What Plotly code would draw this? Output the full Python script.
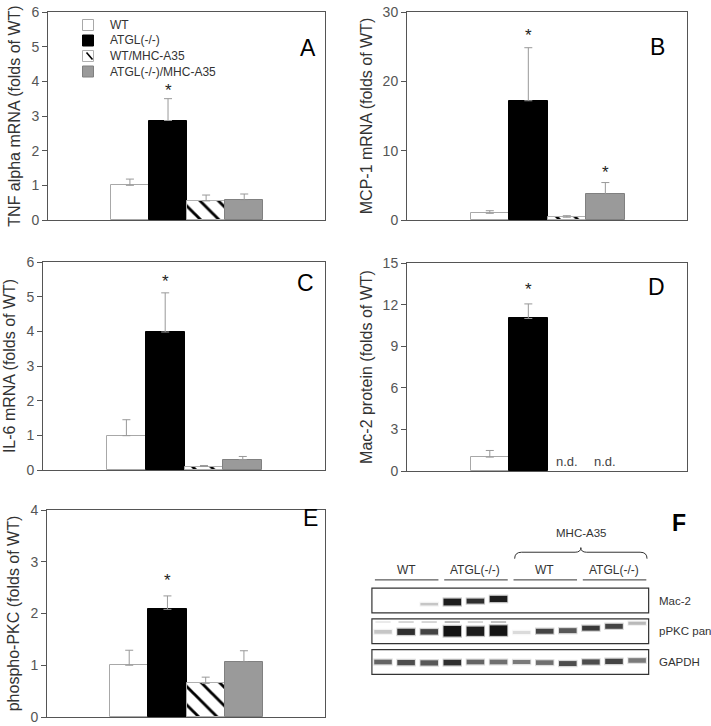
import plotly.graph_objects as go

W, H = 711, 726

# ---------------- data ----------------
groups = ["WT", "ATGL(-/-)", "WT/MHC-A35", "ATGL(-/-)/MHC-A35"]

tnf = [1.0, 2.87, 0.55, 0.57]
tnf_err = [0.18, 0.63, 0.17, 0.18]

mcp1 = [0.96, 17.2, 0.4, 3.7]
mcp1_err = [0.38, 7.65, 0.22, 1.7]

il6 = [0.99, 3.98, 0.1, 0.3]
il6_err = [0.46, 1.13, 0.03, 0.09]

mac2 = [1.0, 11.0, None, None]
mac2_err = [0.48, 1.05, None, None]

ppkc = [1.0, 2.08, 0.65, 1.06]
ppkc_err = [0.29, 0.26, 0.12, 0.22]

stars = {  # panel -> list of (group index, y of asterisk)
    "A": [(1, 3.84)],
    "B": [(1, 27.2), (3, 7.46)],
    "C": [(1, 5.54)],
    "D": [(1, 13.4)],
    "E": [(1, 2.71)],
}
nd_groups = [2, 3]
nd_y = 0.69

y_titles = {
    "A": "TNF alpha mRNA (folds of WT)",
    "B": "MCP-1 mRNA (folds of WT)",
    "C": "IL-6 mRNA (folds of WT)",
    "D": "Mac-2 protein (folds of WT)",
    "E": "phospho-PKC (folds of WT)",
}
y_ranges = {"A": [0, 6], "B": [0, 30], "C": [0, 6], "D": [0, 15], "E": [0, 4]}
y_dticks = {"A": 1, "B": 10, "C": 1, "D": 3, "E": 1}

# western blot (panel F): 12 lanes, band intensity 0..1
lane_groups = ["WT", "ATGL(-/-)", "WT", "ATGL(-/-)"]
blot_rows = ["Mac-2", "pPKC pan", "GAPDH"]
mac2_band = [0, 0, 0.2, 0.95, 0.85, 0.95, 0, 0, 0, 0, 0, 0]
mac2_thick = [0, 0, 0.08, 0.22, 0.16, 0.2, 0, 0, 0, 0, 0, 0]
mac2_shift = [0, 0, 0.12, 0.05, 0.02, -0.05, 0, 0, 0, 0, 0, 0]
ppkc_band = [0.2, 0.85, 0.75, 1.0, 0.95, 1.0, 0.12, 0.75, 0.65, 0.8, 0.75, 0.25]
ppkc_thick = [0.12, 0.2, 0.18, 0.34, 0.3, 0.34, 0.1, 0.16, 0.16, 0.16, 0.16, 0.1]
ppkc_shift = [0.02, 0.02, 0.02, 0.0, 0.0, -0.02, 0.04, 0.0, -0.02, -0.1, -0.16, -0.26]
ppkc_upper = [0.1, 0.2, 0.2, 0.35, 0.2, 0.3, 0, 0, 0, 0, 0, 0]
gapdh_band = [0.6, 0.7, 0.65, 0.85, 0.6, 0.55, 0.5, 0.55, 0.7, 0.7, 0.75, 0.5]
gapdh_thick = [0.15, 0.17, 0.17, 0.18, 0.15, 0.15, 0.13, 0.15, 0.16, 0.17, 0.17, 0.15]
gapdh_shift = [0, 0.02, 0.03, 0.02, 0, 0, 0, 0.02, 0.05, 0, -0.02, -0.05]

# ---------------- styles ----------------
FONT = "Liberation Sans, Arial, sans-serif"
fills = ["white", "black", "white", "#9a9a9a"]
outlines = ["#a8a8a8", "black", "#b0b0b0", "#808080"]


def pxx(x):
    return x / W


def pxy(y):
    return 1 - y / H


panels = {
    # name: (xaxis id, yaxis id, x px domain, y px domain (top, bottom))
    "A": ("x", "y", (48, 325), (12, 220)),
    "B": ("x2", "y2", (407, 687), (12, 220)),
    "C": ("x3", "y3", (43, 325), (262, 470)),
    "D": ("x4", "y4", (407, 687), (263, 471)),
    "E": ("x5", "y5", (47, 325), (510, 717)),
}
series = {"A": (tnf, tnf_err), "B": (mcp1, mcp1_err), "C": (il6, il6_err),
          "D": (mac2, mac2_err), "E": (ppkc, ppkc_err)}

fig = go.Figure()

for pname, (xa, ya, _, _) in panels.items():
    vals, errs = series[pname]
    for i, g in enumerate(groups):
        if vals[i] is None:
            continue
        marker = dict(color=fills[i], line=dict(color=outlines[i], width=1))
        if i == 2:
            marker["pattern"] = dict(shape="\\", fgcolor="black", bgcolor="white",
                                     size=13, solidity=0.22, fgopacity=1)
        fig.add_trace(go.Bar(
            x=[i], y=[vals[i]], width=1, name=g, legendgroup=g,
            showlegend=False, marker=marker,
            error_y=dict(type="data", array=[errs[i]], arrayminus=[0], symmetric=False,
                         color="#999999", thickness=1, width=4),
            xaxis=xa, yaxis=ya, hoverinfo="skip",
        ))

layout = dict(
    template="none",
    width=W, height=H, margin=dict(l=0, r=0, t=0, b=0, pad=0, autoexpand=False),
    paper_bgcolor="white", plot_bgcolor="white",
    font=dict(family=FONT, color="#333", size=13),
    barmode="overlay", bargap=0, showlegend=False,
    annotations=[], shapes=[],
)

for pname, (xa, ya, xd, yd) in panels.items():
    xk = "xaxis" + xa[1:]
    yk = "yaxis" + ya[1:]
    layout[xk] = dict(domain=[pxx(xd[0]), pxx(xd[1])], range=[-2.15, 5.12],
                      showticklabels=False, ticks="", showgrid=False, zeroline=False,
                      showline=True, linecolor="#555", linewidth=1, mirror=True,
                      anchor=ya, fixedrange=True, automargin=False)
    layout[yk] = dict(domain=[pxy(yd[1]), pxy(yd[0])], range=y_ranges[pname],
                      dtick=y_dticks[pname], tick0=0, ticks="outside", ticklen=5,
                      tickcolor="#555", showgrid=False, zeroline=False,
                      showline=True, linecolor="#555", linewidth=1, mirror=True,
                      tickfont=dict(size=14, color="#555"),
                      title=dict(text=y_titles[pname], font=dict(size=16, color="#333"),
                                 standoff=6),
                      anchor=xa, fixedrange=True, automargin=False)
    for gi, yv in stars[pname]:
        layout["annotations"].append(dict(
            x=gi, y=yv, xref=xa, yref=ya, text="*", showarrow=False,
            font=dict(size=17, color="#222"), yshift=-4))

# manual legend for panel A
leg_x, leg_y0, leg_dy = 88, 25, 15.5
for i, g in enumerate(groups):
    cy = leg_y0 + i * leg_dy
    layout["shapes"].append(dict(
        type="rect", xref="paper", yref="paper",
        x0=pxx(leg_x - 5.5), x1=pxx(leg_x + 5.5), y0=pxy(cy + 5.5), y1=pxy(cy - 5.5),
        fillcolor=fills[i], line=dict(color=outlines[i], width=1)))
    if i == 2:
        layout["shapes"].append(dict(
            type="line", xref="paper", yref="paper",
            x0=pxx(leg_x - 1.5), x1=pxx(leg_x + 4.5), y0=pxy(cy - 3.5), y1=pxy(cy + 3.5),
            line=dict(color="black", width=1.6)))
    layout["annotations"].append(dict(
        x=pxx(leg_x + 20), y=pxy(cy), xref="paper", yref="paper", text=g,
        xanchor="left", yanchor="middle", showarrow=False,
        font=dict(size=12, color="#333")))

for gi in nd_groups:
    layout["annotations"].append(dict(
        x=gi, y=nd_y, xref="x4", yref="y4", text="n.d.", showarrow=False,
        font=dict(size=13, color="#444")))

letters = [("A", 308, 33, False), ("B", 667, 32, False), ("C", 305, 283, False),
           ("D", 667, 287, False), ("E", 310, 533, False), ("F", 688, 538, True)]
for t, lx, ly, bold in letters:
    layout["annotations"].append(dict(
        x=pxx(lx), y=pxy(ly), xref="paper", yref="paper",
        text=f"<b>{t}</b>" if bold else t, showarrow=False,
        font=dict(size=23, color="black", family=FONT)))

# ---------------- panel F: western blot ----------------
lane0_px, lane_step = 383, 23.1
row0_px, row_step = 600.5, 30.75
layout["xaxis6"] = dict(domain=[pxx(355), 1.0],
                        range=[(355 - lane0_px) / lane_step, (711 - lane0_px) / lane_step],
                        visible=False, anchor="y6", fixedrange=True, automargin=False)
layout["yaxis6"] = dict(domain=[0.0, pxy(520)],
                        range=[(726 - row0_px) / row_step, (520 - row0_px) / row_step],
                        visible=False, anchor="x6", fixedrange=True, automargin=False)
fig.add_trace(go.Scatter(x=[0], y=[0], mode="markers", marker=dict(opacity=0),
                         showlegend=False, hoverinfo="skip", xaxis="x6", yaxis="y6"))

n_lanes = len(gapdh_band)
for r in range(3):
    layout["shapes"].append(dict(type="rect", xref="x6", yref="y6",
                                 x0=-0.48, x1=n_lanes - 0.5, y0=r - 0.4, y1=r + 0.4,
                                 line=dict(color="#333", width=1.2), fillcolor="white",
                                 layer="below"))
band_sets = [(0, mac2_band, mac2_thick, mac2_shift),
             (1, ppkc_band, ppkc_thick, ppkc_shift),
             (2, gapdh_band, gapdh_thick, gapdh_shift)]
for r, inten, thick, shift in band_sets:
    for i in range(n_lanes):
        if inten[i] <= 0:
            continue
        yc = r + shift[i]
        layout["shapes"].append(dict(
            type="rect", xref="x6", yref="y6", x0=i - 0.38, x1=i + 0.38,
            y0=yc - thick[i] / 2, y1=yc + thick[i] / 2,
            line=dict(width=0), fillcolor=f"rgba(20,20,20,{inten[i]:.2f})"))
        layout["shapes"].append(dict(
            type="rect", xref="x6", yref="y6", x0=i - 0.42, x1=i + 0.42,
            y0=yc - thick[i] / 2 - 0.04, y1=yc + thick[i] / 2 + 0.04,
            line=dict(width=0), fillcolor=f"rgba(20,20,20,{inten[i] * 0.25:.2f})"))
for i in range(n_lanes):
    if ppkc_upper[i] > 0:
        layout["shapes"].append(dict(
            type="rect", xref="x6", yref="y6", x0=i - 0.33, x1=i + 0.33,
            y0=1 - 0.33, y1=1 - 0.27, line=dict(width=0),
            fillcolor=f"rgba(40,40,40,{ppkc_upper[i]:.2f})"))

for r, lab in enumerate(blot_rows):
    layout["annotations"].append(dict(
        x=(657 - lane0_px) / lane_step, y=r, xref="x6", yref="y6", text=lab,
        xanchor="left", showarrow=False, font=dict(size=11.5, color="#333")))

for k, lab in enumerate(lane_groups):
    a, b = 3 * k, 3 * k + 2
    layout["shapes"].append(dict(type="line", xref="x6", yref="y6",
                                 x0=a - 0.35, x1=b + 0.4, y0=-0.67, y1=-0.67,
                                 line=dict(color="#333", width=1)))
    layout["annotations"].append(dict(
        x=(a + b) / 2, y=-0.99, xref="x6", yref="y6", text=lab, showarrow=False,
        font=dict(size=12, color="#333")))

bx0, bx1 = 6 - 0.3, 11 + 0.43
apex = (bx0 + bx1) / 2
yb, yh, yt = -1.36, -1.57, -1.72
path = (f"M {bx0},{yb} Q {bx0},{yh} {bx0 + 0.3},{yh} L {apex - 0.25},{yh} "
        f"Q {apex},{yh} {apex},{yt} Q {apex},{yh} {apex + 0.25},{yh} "
        f"L {bx1 - 0.3},{yh} Q {bx1},{yh} {bx1},{yb}")
layout["shapes"].append(dict(type="path", xref="x6", yref="y6", path=path,
                             line=dict(color="#333", width=1)))
layout["annotations"].append(dict(
    x=apex, y=-2.2, xref="x6", yref="y6", text="MHC-A35", showarrow=False,
    font=dict(size=11.5, color="#333")))

fig.update_layout(**layout)
fig.write_html("out.html", config={"displayModeBar": False},
               post_script="document.body.style.margin='0';")
